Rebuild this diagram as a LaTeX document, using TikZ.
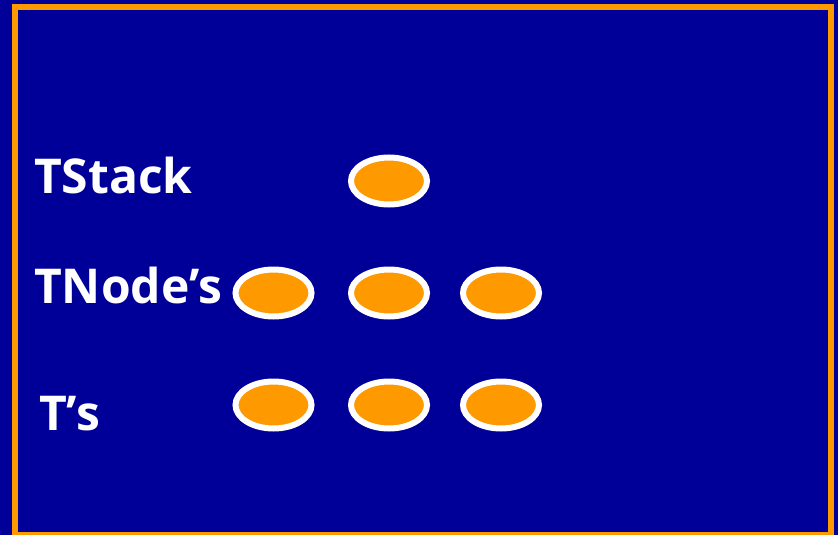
\documentclass[tikz,border=0pt]{standalone}
\usepackage{fontspec}
\setmainfont{Open Sans}
\usetikzlibrary{shapes.geometric}
\definecolor{navy}{HTML}{000099}
\definecolor{amber}{HTML}{FF9900}
\tikzset{obj/.style={ellipse,draw=white,line width=6pt,fill=amber,minimum width=76pt,minimum height=47pt,inner sep=0pt}, lbl/.style={anchor=base west,inner sep=0pt,text=white,font=\fontsize{48}{58}\selectfont\bfseries}}

\begin{document}
\begin{tikzpicture}[x=1pt,y=-1pt]
\useasboundingbox (0,0) rectangle (838,535);
\fill[navy] (0,0) rectangle (838,535);\draw[amber,line width=6pt] (15,7) rectangle (831,535);
\node[lbl] (ls) at (34,193){TStack};\node[lbl] (ln) at (34,303){TNode's};\node[lbl] (lt) at (39,430){T's};
\node[obj] (stack) at (389,181){};
\node[obj] (n1) at (273.5,293){};\node[obj] (n2) at (389,293){};\node[obj] (n3) at (501,293){};
\node[obj] (t1) at (273.5,405){};\node[obj] (t2) at (389,405){};\node[obj] (t3) at (501,405){};
\end{tikzpicture}
\end{document}
